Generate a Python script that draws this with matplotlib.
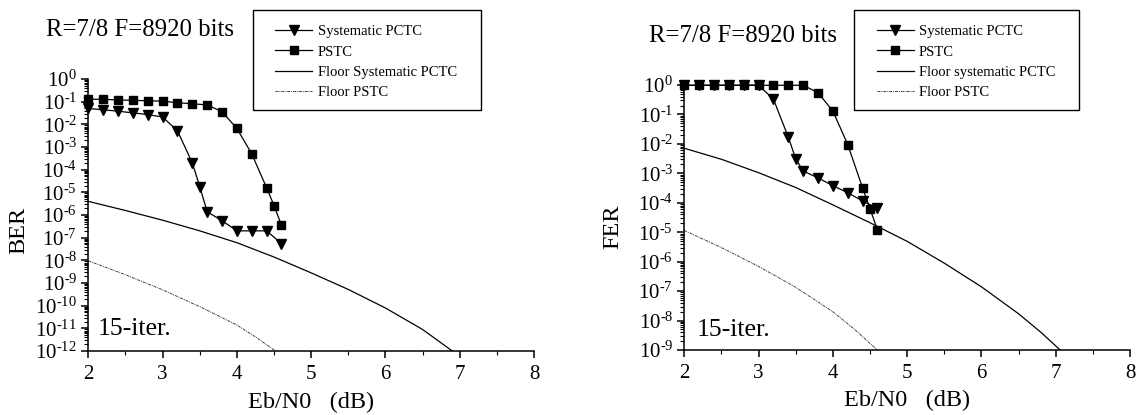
import numpy as np
import matplotlib
matplotlib.use("Agg")
import matplotlib.pyplot as plt
from matplotlib.ticker import FixedLocator, LogLocator, MultipleLocator, FuncFormatter, NullFormatter
from matplotlib.patches import Rectangle

plt.rcParams["font.family"] = ["Liberation Serif", "DejaVu Serif"]
plt.rcParams["mathtext.fontset"] = "custom"
plt.rcParams["mathtext.rm"] = "Liberation Serif"
plt.rcParams["mathtext.it"] = "Liberation Serif:italic"

# =========================
# DATOS
# =========================

ebn0_sys = [2.0, 2.2, 2.4, 2.6, 2.8, 3.0, 3.2, 3.4, 3.5, 3.6, 3.8, 4.0, 4.2, 4.4, 4.6]
ebn0_pstc = [2.0, 2.2, 2.4, 2.6, 2.8, 3.0, 3.2, 3.4, 3.6, 3.8, 4.0, 4.2, 4.4, 4.5, 4.6]

ber_sys = [5.0e-2, 4.4e-2, 3.8e-2, 3.2e-2, 2.7e-2, 2.1e-2, 5.2e-3, 2.0e-4, 1.8e-5,
           1.4e-6, 5.6e-7, 2.0e-7, 2.0e-7, 2.0e-7, 5.5e-8]
ber_pstc = [1.3e-1, 1.26e-1, 1.2e-1, 1.14e-1, 1.1e-1, 1.05e-1, 9.0e-2, 8.1e-2, 7.2e-2,
            3.6e-2, 6.6e-3, 5.0e-4, 1.6e-5, 2.6e-6, 3.6e-7]

fer_sys = [0.98, 0.98, 0.98, 0.98, 0.98, 0.98, 0.33, 1.7e-2, 3.1e-3, 1.2e-3, 7.0e-4,
           3.8e-4, 2.2e-4, 1.15e-4, 6.5e-5]
fer_pstc = [0.98, 0.98, 0.98, 0.98, 0.98, 0.98, 0.98, 0.98, 0.98, 0.55, 0.13, 9.5e-3,
            3.2e-4, 6.3e-5, 1.2e-5]

ebn0_floor_sys_ber = [2.0, 2.5, 3.0, 3.5, 4.0, 4.5, 5.0, 5.5, 6.0, 6.5, 6.9]
floor_sys_ber = [4.0e-6, 1.58e-6, 5.9e-7, 2.0e-7, 6.0e-8, 1.4e-8, 2.8e-9, 5.2e-10,
                 7.9e-11, 8.9e-12, 1.0e-12]
ebn0_floor_pstc_ber = [2.0, 2.5, 3.0, 3.5, 4.0, 4.25, 4.52]
floor_pstc_ber = [9.5e-9, 2.3e-9, 5.0e-10, 9.1e-11, 1.4e-11, 4.2e-12, 1.0e-12]

ebn0_floor_sys_fer = [2.0, 2.5, 3.0, 3.5, 4.0, 4.5, 5.0, 5.5, 6.0, 6.5, 6.8, 7.06]
floor_sys_fer = [7.1e-3, 3.0e-3, 1.05e-3, 3.3e-4, 8.5e-5, 2.1e-5, 4.9e-6, 8.9e-7,
                 1.4e-7, 1.7e-8, 4.0e-9, 1.0e-9]
ebn0_floor_pstc_fer = [2.0, 2.5, 3.0, 3.5, 4.0, 4.3, 4.6]
floor_pstc_fer = [1.15e-5, 3.0e-6, 6.9e-7, 1.35e-7, 2.0e-8, 4.8e-9, 1.0e-9]

W, H = 1139, 415
GUION = "\u2010"


def fx(px):
    return px / W


def fy(py):
    return 1 - py / H


def etiqueta_log(v, _):
    e = int(round(np.log10(v)))
    if e < 0:
        return "$\\mathregular{10^{" + GUION + str(-e) + "}}$"
    return "$\\mathregular{10^{" + str(e) + "}}$"


# =========================
# EJES
# =========================

def preparar_ejes(ax, exp_min, ylabel, xlab_y, ylab_x, ylab_y):
    ax.set_yscale("log")
    ax.set_xlim(2, 8)
    ax.set_ylim(10.0 ** exp_min, 1)
    for lado in ["top", "right"]:
        ax.spines[lado].set_visible(False)
    for lado in ["left", "bottom"]:
        ax.spines[lado].set_linewidth(1.1)
    ax.xaxis.set_major_locator(MultipleLocator(1))
    ax.xaxis.set_minor_locator(MultipleLocator(0.5))
    ax.yaxis.set_major_locator(FixedLocator(10.0 ** np.arange(exp_min, 1)))
    ax.yaxis.set_minor_locator(LogLocator(base=10, subs=np.arange(2, 10), numticks=100))
    ax.yaxis.set_minor_formatter(NullFormatter())
    ax.yaxis.set_major_formatter(FuncFormatter(etiqueta_log))
    ax.tick_params(which="major", direction="out", length=5, width=1.1, labelsize=15)
    ax.tick_params(which="minor", direction="out", length=3, width=0.8)
    ax.tick_params(axis="x", pad=5)
    ax.tick_params(axis="y", pad=3)
    ax.set_xlabel("Eb/N0   (dB)", fontsize=17.5)
    ax.xaxis.set_label_coords(0.5, xlab_y)
    ax.set_ylabel(ylabel, fontsize=17.5)
    ax.yaxis.set_label_coords(ylab_x, ylab_y)
    ax.xaxis.label.set_va("center")
    ax.yaxis.label.set_va("center")


def dibujar(ax, y_sys, y_pstc, xf1, f1, xf2, f2, etiqueta_floor):
    l1, = ax.plot(ebn0_sys, y_sys, color="black", lw=0.9, marker="v", ms=6.5,
                  clip_on=False, zorder=4, label="Systematic PCTC")
    l2, = ax.plot(ebn0_pstc, y_pstc, color="black", lw=0.9, marker="s", ms=5.5,
                  clip_on=False, zorder=4, label="PSTC")
    l3, = ax.plot(xf1, f1, color="black", lw=0.9, label=etiqueta_floor)
    l4, = ax.plot(xf2, f2, color="0.25", lw=0.7, ls=(0, (3, 1, 1, 1)), label="Floor PSTC")
    return [l1, l2, l3, l4]


fig = plt.figure(figsize=(W / 100, H / 100), dpi=100)

ax1 = fig.add_axes([fx(88.3), fy(351), fx(534 - 88.3), (351 - 79) / H])
ax2 = fig.add_axes([fx(684.3), fy(350), fx(1130 - 684.3), (350 - 85) / H])

# posiciones de etiquetas (fracciones de eje)
preparar_ejes(ax1, -12, "BER", -(402 - 351) / 272, (19 - 88.3) / 445.7, (351 - 230) / 272)
preparar_ejes(ax2, -9, "FER", -(400 - 350) / 265, (613 - 684.3) / 445.7, (350 - 227) / 265)

h1 = dibujar(ax1, ber_sys, ber_pstc, ebn0_floor_sys_ber, floor_sys_ber,
             ebn0_floor_pstc_ber, floor_pstc_ber, "Floor Systematic PCTC")
h2 = dibujar(ax2, fer_sys, fer_pstc, ebn0_floor_sys_fer, floor_sys_fer,
             ebn0_floor_pstc_fer, floor_pstc_fer, "Floor systematic PCTC")

# leyendas con caja propia
for handles, cx, caja in [(h1, 366, (252.5, 481)), (h2, 966, (853.7, 1079))]:
    leg = fig.legend(handles=handles, loc="center", bbox_to_anchor=(fx(cx), fy(62)),
                     frameon=False, fontsize=10.5, handlelength=2.55,
                     handletextpad=0.35, labelspacing=0.48, borderpad=0)
    fig.patches.append(Rectangle((fx(caja[0]), fy(110)), fx(caja[1] - caja[0]), 100 / H,
                                 transform=fig.transFigure, fill=False,
                                 edgecolor="black", lw=1.0))

fig.text(fx(46), fy(30), "R=7/8 F=8920 bits", fontsize=17.8, va="center", ha="left")
fig.text(fx(649), fy(36), "R=7/8 F=8920 bits", fontsize=17.8, va="center", ha="left")
fig.text(fx(98), fy(329), "15-iter.", fontsize=18.5, va="center", ha="left")
fig.text(fx(697), fy(330), "15-iter.", fontsize=18.5, va="center", ha="left")

fig.savefig("out.png", dpi=100)
